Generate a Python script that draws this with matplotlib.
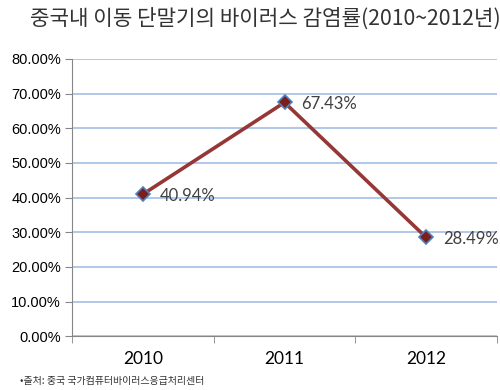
import matplotlib
matplotlib.use("Agg")
import matplotlib.pyplot as plt
import numpy as np

# 연도별 바이러스 감염률 (%)
years = ["2010", "2011", "2012"]
rates = [40.94, 67.43, 28.49]
y_ticks = [0, 10, 20, 30, 40, 50, 60, 70, 80]

title = "중국내 이동 단말기의 바이러스 감염률(2010~2012년)"
source = "•출처: 중국 국가컴퓨터바이러스응급처리센터"

plt.rcParams['font.family'] = ['Noto Sans CJK KR', 'DejaVu Sans']

fig = plt.figure(figsize=(5, 3.9), dpi=100)
ax = fig.add_axes([0.144, 0.138, 0.85, 0.711])

x = np.arange(len(years))
ax.plot(x, rates, color="#953735", lw=2.6, marker="D", ms=7.5,
        markerfacecolor="#7a1f1c", markeredgecolor="#4f81bd", mew=1.2, zorder=3)

# 데이터 레이블
for xi, v in zip(x, rates):
    ax.annotate(f"{v:.2f}%", (xi, v), xytext=(12, -1), textcoords="offset points",
                ha="left", va="center", fontsize=12, color="#404040", family="Lato")

ax.set_xlim(-0.5, 2.5)
ax.set_ylim(0, 80)
ax.set_yticks(y_ticks)
ax.set_yticklabels([f"{t:.2f}%" for t in y_ticks], family="Liberation Sans", fontsize=10.5)
ax.set_xticks(x)
ax.set_xticklabels(years, family="Lato", fontsize=12.5)
ax.set_xticks([-0.5, 0.5, 1.5, 2.5], minor=True)
ax.tick_params(axis="x", which="major", length=0, pad=11)
ax.tick_params(axis="x", which="minor", length=5, color="#868686")
ax.tick_params(axis="y", length=5, color="#868686", pad=3)

ax.grid(axis="y", color="#a4bfe6", lw=1.2)
ax.set_axisbelow(True)
for s in ["top", "right"]:
    ax.spines[s].set_visible(False)
ax.spines["left"].set_color("#868686")
ax.spines["bottom"].set_color("#868686")

fig.text(0.06, 0.953, title, ha="left", va="center", fontsize=15.3, color="#333333")
fig.text(0.04, 0.022, source, ha="left", va="center", fontsize=7.2, color="#333333")

fig.savefig("out.png")
